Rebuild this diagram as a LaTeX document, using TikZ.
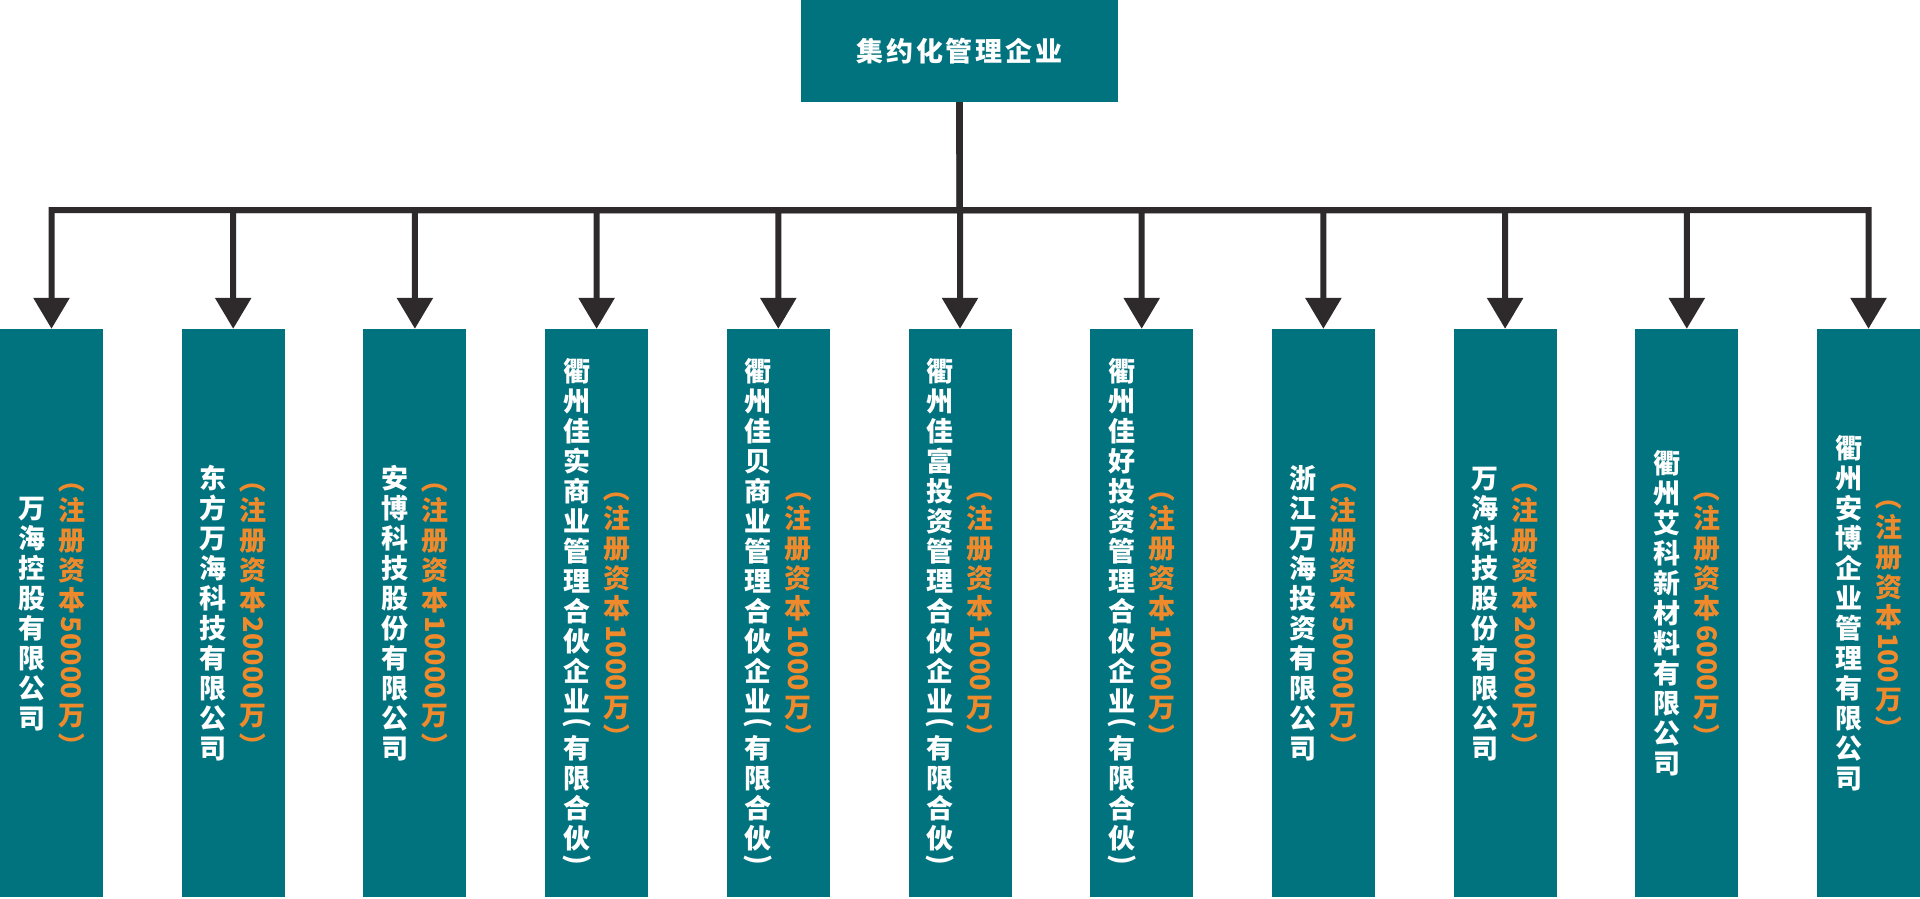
\documentclass[tikz,border=0pt]{standalone}
\usepackage{fontspec}
\setmainfont{Noto Sans CJK SC}
\usepackage{graphicx}
\usetikzlibrary{arrows.meta, positioning}

\definecolor{boxteal}{HTML}{00737F}
\definecolor{capor}{HTML}{EE8A2B}
\definecolor{linedark}{HTML}{2E2A2B}

% vertical text: one character per row, {\heng ...} is turned sideways
\protected\def\vtend{VTEND}
\protected\def\heng{HENG}
\def\vtstack#1{\vbox{\offinterlineskip\expandafter\vtloop#1\vtend\unkern}}
\def\vtloop#1{\ifx\vtend#1\else\vtitem{#1}\expandafter\vtloop\fi}
\def\vtitem#1{\vtcheck#1\vtstop}
\def\vtcheck#1#2\vtstop{\ifx\heng#1\hbox to 1em{\hss\rotatebox[origin=c]{-90}{#2}\hss}%
  \else\hbox to 1em{\hss\vrule height .88em depth .12em width 0pt#1#2\hss}\fi\kern3pt}

\begin{document}
\begin{tikzpicture}[x=1pt, y=-1pt]
    \tikzstyle{firm}=[fill=boxteal, minimum width=103pt, minimum height=568pt, inner sep=0pt];
    \tikzstyle{topfirm}=[fill=boxteal, minimum width=317pt, minimum height=102pt, inner sep=0pt, text=white, font=\bfseries\fontsize{27}{30}\selectfont\addfontfeature{LetterSpace=11}];
    \tikzstyle{nametext}=[text=white, inner sep=0pt, font=\bfseries\fontsize{27}{30}\selectfont];
    \tikzstyle{captext}=[text=capor, inner sep=0pt, font=\bfseries\fontsize{27}{30}\selectfont];
    \tikzstyle{wire}=[draw=linedark, line width=6pt];
    \tikzstyle{arrowdown}=[-{Triangle[width=35pt, length=31pt]}];

    \useasboundingbox (0,0) rectangle (1920,898);

    \node[topfirm] (top) at (959.5,51) {集约化管理企业};
    \coordinate (fork) at (960,210);

    \foreach \i/\nm/\amt in {1/万海控股有限公司/50000,
                              2/东方万海科技有限公司/20000,
                              3/安博科技股份有限公司/10000,
                              4/衢州佳实商业管理合伙企业{\heng(}有限合伙{\heng)}/1000,
                              5/衢州佳贝商业管理合伙企业{\heng(}有限合伙{\heng)}/1000,
                              6/衢州佳富投资管理合伙企业{\heng(}有限合伙{\heng)}/1000,
                              7/衢州佳好投资管理合伙企业{\heng(}有限合伙{\heng)}/1000,
                              8/浙江万海投资有限公司/50000,
                              9/万海科技股份有限公司/20000,
                              10/衢州艾科新材料有限公司/6000,
                              11/衢州安博企业管理有限公司/100} {
        \node[firm] (f\i) at ({51.5+181.7*(\i-1)},613) {};
        \node[nametext, xshift=-20pt] (n\i) at (f\i.center) {\vtstack{\nm}};
        \node[captext, xshift=20pt] (c\i) at (f\i.center) {\vtstack{{\heng（}注册资本{\heng{\amt}}万{\heng）}}};
        \draw[wire, arrowdown] (top.south) -- (fork) -| (f\i.north);
    }
\end{tikzpicture}
\end{document}
